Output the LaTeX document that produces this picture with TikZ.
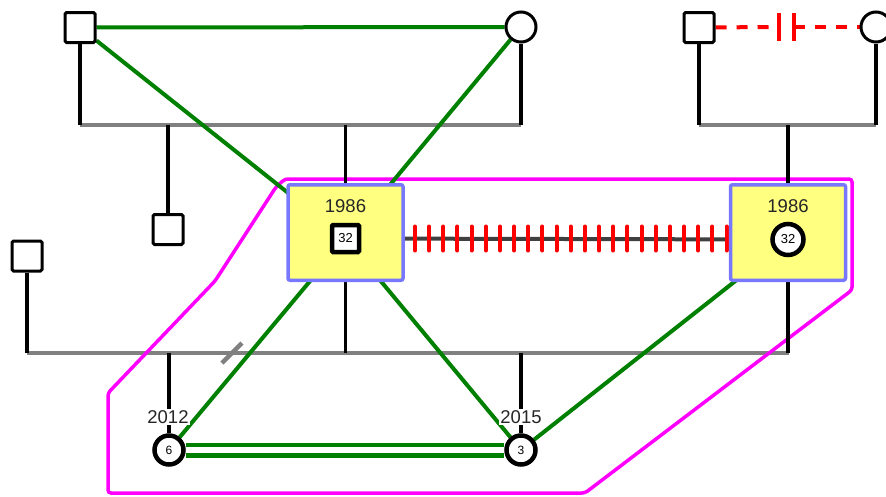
\documentclass[tikz,border=0pt]{standalone}
\usepackage{fontspec}
\setmainfont{Liberation Sans}
\usetikzlibrary{calc, backgrounds}

\definecolor{relgreen}{RGB}{0,128,0}
\definecolor{sibgray}{RGB}{128,128,128}
\definecolor{boxblue}{RGB}{120,120,255}
\definecolor{boxyellow}{RGB}{255,255,128}
\definecolor{hashgray}{RGB}{64,64,64}
\definecolor{housepink}{RGB}{255,0,255}

\begin{document}
\begin{tikzpicture}[x=1pt, y=-1pt,
    male/.style={draw, rectangle, rounded corners=1.5pt, line width=3pt, fill=white, minimum size=30pt, inner sep=0pt},
    female/.style={draw, circle, line width=3pt, fill=white, minimum size=30pt, inner sep=0pt},
    selfmale/.style={draw, rectangle, rounded corners=1pt, line width=4.5pt, fill=white, minimum size=27pt, inner sep=0pt, font=\fontsize{13}{13}\selectfont},
    selffemale/.style={draw, circle, line width=4.5pt, fill=white, minimum size=31pt, inner sep=0pt, font=\fontsize{13}{13}\selectfont},
    kid/.style={draw, circle, line width=4.5pt, fill=white, minimum size=29pt, inner sep=0pt, font=\fontsize{12}{12}\selectfont},
    couplebox/.style={draw=boxblue, fill=boxyellow, line width=3.5pt, rounded corners=2pt, minimum width=115pt, minimum height=95.5pt, inner sep=0pt},
    yearlabel/.style={font=\fontsize{18.5}{18.5}\selectfont, text=black!85, inner sep=1pt},
    sibline/.style={draw=sibgray, line width=4.5pt},
    descent/.style={draw=black, line width=3.5pt},
    relation/.style={draw=relgreen, line width=4pt},
    hashtick/.style={draw=red, line width=4pt, line cap=round},
    sepline/.style={draw=red, line width=4pt, dash pattern=on 11pt off 10pt}
]
    \useasboundingbox (0,0) rectangle (886,496);

    % Grandparents on both sides
    \node[male] (gfL) at (80,27.5) {};
    \node[female] (gmL) at (521,27) {};
    \node[male] (gfR) at (699,27.5) {};
    \node[female] (gmR) at (876,27) {};

    % Sibling and former partner
    \node[male] (uncle) at (168,229.5) {};
    \node[male] (exP) at (27,256) {};

    % The couple in their boxes
    \node[couplebox] (boxL) at (345.5,232.5) {};
    \node[couplebox] (boxR) at (788,232.5) {};
    \node[yearlabel] (yearL) at (345.5,206.5) {1986};
    \node[yearlabel] (yearR) at (788,206.5) {1986};
    \node[selfmale] (selfM) at (345.5,238.5) {32};
    \node[selffemale] (selfF) at (788,239.5) {32};

    % Children
    \node[kid] (kid6) at (169,450) {6};
    \node[kid] (kid3) at (521,450) {3};
    \node[yearlabel, fill=white] (year6) at (168,417) {2012};
    \node[yearlabel, fill=white] (year3) at (521,417) {2015};

    % Sibship lines
    \coordinate (famA) at (80,125);
    \coordinate (famB) at (521,125);
    \coordinate (famC) at (699,125);
    \coordinate (famD) at (876,125);
    \coordinate (famE) at (27,353);
    \coordinate (famF) at (789,353);
    \coordinate (cut) at (232,353);
    \coordinate (barA) at (779,27);
    \coordinate (barB) at (794,27);
    \coordinate (hashA) at (415,238.5);
    \coordinate (hashB) at (726.5,238.5);

    \begin{scope}[on background layer]
        \draw[sibline] (famA) -- (famB);
        \draw[sibline] (famC) -- (famD);
        \draw[sibline] (famE) -- (famF);
        \draw[sibline] ($(cut)+(-10,10)$) -- ($(cut)+(10,-10)$);

        % Highlighted household
        \draw[housepink, line width=3.5pt, rounded corners=3pt]
            (285,179) -- (852,179) -- (852,290) -- (585,493) -- (108,493)
            -- (108,393) -- (215,281) -- (276,187) -- cycle;

        % Lines of descent
        \draw[descent] (gfL) -- (famA);
        \draw[descent] (gmL) -- (famB);
        \draw[descent] (gfR) -- (famC);
        \draw[descent] (gmR) -- (famD);
        \draw[descent] (exP) -- (famE);
        \foreach \n in {uncle, boxL} {
            \draw[descent] (\n) -- (\n |- famA);
        }
        \draw[descent] (boxR) -- (boxR |- famC);
        \foreach \n in {boxL, boxR, kid6, kid3} {
            \draw[descent] (\n) -- (\n |- famE);
        }

        % Emotional relationships
        \foreach \s/\t in {gfL/gmL, gfL/selfM, gmL/selfM, selfM/kid6, selfM/kid3, selfF/kid3} {
            \draw[relation] (\s) -- (\t);
        }
        \draw[relgreen, line width=4.5pt, double=white, double distance=6pt] (kid6) -- (kid3);

        % Hostile marriage
        \draw[hashgray, line width=4pt] (selfM) -- (selfF);
        \foreach \k in {0,...,22} {
            \draw[hashtick] ($(hashA)!\k/22!(hashB)+(0,-12)$) -- ++(0,24);
        }

        % Separated grandparents
        \draw[sepline] (gfR) -- (barA);
        \draw[sepline] (barB) -- (gmR);
        \foreach \b in {barA, barB} {
            \draw[hashtick, line cap=butt] ($(\b)+(0,-14)$) -- ($(\b)+(0,14)$);
        }
    \end{scope}
\end{tikzpicture}
\end{document}
